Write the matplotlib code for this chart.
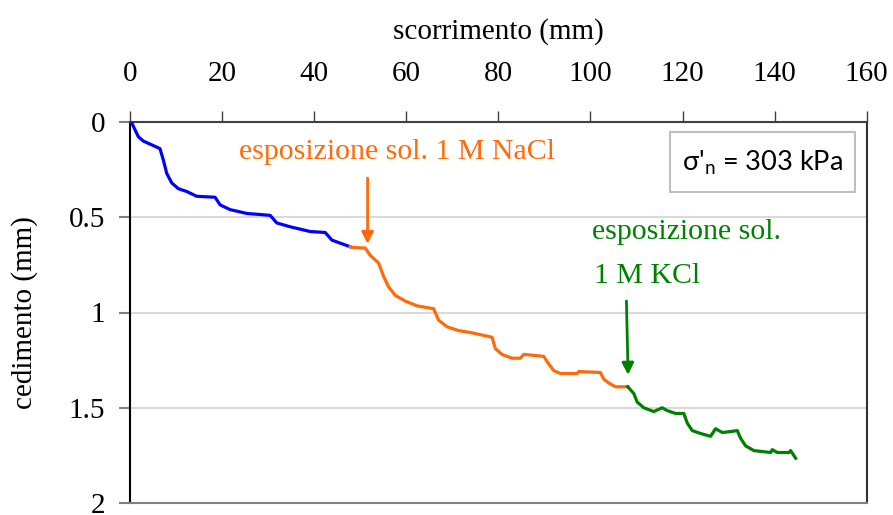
import matplotlib.pyplot as plt
from matplotlib.patches import Rectangle

plt.rcParams['font.family'] = ['Liberation Serif', 'DejaVu Serif']
plt.rcParams['mathtext.fontset'] = 'custom'
plt.rcParams['mathtext.rm'] = 'Lato'

# scorrimento (mm) / cedimento (mm) for each phase of the test
x_acqua = [0, 0.37, 1.80, 2.89, 4.72, 6.52, 7.24, 7.98, 9.07, 10.50, 12.33, 14.50,
           18.48, 19.57, 21.74, 25.37, 30.43, 31.89, 34.78, 39.13, 42.39, 43.85, 47.83]
y_acqua = [0, 0.004, 0.077, 0.10, 0.12, 0.14, 0.20, 0.27, 0.32, 0.35, 0.365, 0.39,
           0.395, 0.435, 0.46, 0.48, 0.49, 0.53, 0.55, 0.575, 0.58, 0.62, 0.655]

x_nacl = [47.83, 48.20, 51.09, 52.17, 53.98, 55.07, 56.15, 57.61, 59.78, 62.33, 65.93,
          67.02, 68.85, 71.37, 73.91, 76.80, 78.63, 79.35, 80.80, 82.98, 84.78,
          85.50, 89.85, 90.93, 92.02, 93.48, 97.11, 97.46, 102.17, 102.89, 103.98,
          105.43, 108.11]
y_nacl = [0.655, 0.658, 0.662, 0.70, 0.74, 0.81, 0.865, 0.91, 0.94, 0.965, 0.98,
          1.04, 1.075, 1.095, 1.105, 1.12, 1.13, 1.19, 1.22, 1.24, 1.24,
          1.22, 1.23, 1.27, 1.305, 1.32, 1.32, 1.31, 1.315, 1.35, 1.37,
          1.39, 1.39]

x_kcl = [108.11, 109.41, 110.15, 111.59, 113.76, 115.59, 116.67, 118.48, 120.28,
         121.02, 122.11, 123.91, 126.09, 127.17, 128.63, 130.43, 131.89, 132.61,
         133.70, 135.50, 139.13, 139.50, 140.59, 143.11, 143.48, 144.57]
y_kcl = [1.39, 1.425, 1.47, 1.50, 1.52, 1.50, 1.515, 1.53, 1.53,
         1.58, 1.62, 1.635, 1.65, 1.61, 1.63, 1.625, 1.62, 1.66,
         1.70, 1.725, 1.735, 1.72, 1.735, 1.735, 1.725, 1.765]

x_ticks = [0, 20, 40, 60, 80, 100, 120, 140, 160]
y_ticks = [0, 0.5, 1, 1.5, 2]
y_ticklabels = ['0', '0.5', '1', '1.5', '2']

blue = '#0000FF'
orange = '#FF6A0A'
green = '#008000'

fig = plt.figure(figsize=(8.93, 5.15), dpi=100)
ax = fig.add_axes([130 / 893, 12 / 515, 736.7 / 893, 381 / 515])

ax.plot(x_acqua, y_acqua, color=blue, lw=2.3, zorder=3)
ax.plot(x_nacl, y_nacl, color=orange, lw=2.3, zorder=3)
ax.plot(x_kcl, y_kcl, color=green, lw=2.3, zorder=3)

ax.set_xlim(0, 160)
ax.set_ylim(2, 0)
ax.set_xticks(x_ticks)
ax.set_yticks(y_ticks)
ax.set_yticklabels(y_ticklabels)
ax.xaxis.tick_top()
ax.xaxis.set_label_position('top')
ax.tick_params(axis='x', length=8, width=1, color='#404040', labelsize=21, pad=17)
ax.tick_params(axis='y', length=8, width=1.5, color='#808080', labelsize=21, pad=10)
ax.yaxis.grid(True, color='#d9d9d9', lw=1.5)
ax.set_axisbelow(True)

ax.set_xlabel('scorrimento (mm)', fontsize=21, labelpad=16)
ax.set_ylabel('cedimento (mm)', fontsize=21, labelpad=22)

ax.spines['left'].set_color('black')
ax.spines['top'].set_color('#404040')
ax.spines['right'].set_color('#303030')
ax.spines['bottom'].set_color('#808080')
for s in ax.spines.values():
    s.set_linewidth(1.5)

# annotazioni sulle fasi di esposizione
ax.text(58.0, 0.157, 'esposizione sol. 1 M NaCl', color=orange, fontsize=21.5,
        ha='center', va='center')
ax.annotate('', xy=(51.6, 0.655), xytext=(51.6, 0.28),
            arrowprops=dict(arrowstyle='-|>,head_width=0.35,head_length=0.7',
                            color=orange, lw=2))

ax.text(100.4, 0.577, 'esposizione sol.', color=green, fontsize=21.5,
        ha='left', va='center')
ax.text(100.8, 0.81, '1 M KCl', color=green, fontsize=21.5,
        ha='left', va='center')
ax.annotate('', xy=(108.2, 1.342), xytext=(107.8, 0.925),
            arrowprops=dict(arrowstyle='-|>,head_width=0.35,head_length=0.7',
                            color=green, lw=2))

ax.add_patch(Rectangle((0.733, 0.816), 0.251, 0.157, transform=ax.transAxes,
                       facecolor='white', edgecolor='#bfbfbf', lw=1.5, zorder=4))
ax.text(0.858, 0.893, r"σ'$_\mathregular{n}$ = 303 kPa", transform=ax.transAxes,
        fontsize=19.5, family='Lato', ha='center', va='center', zorder=5)

fig.savefig('out.png', dpi=100)
